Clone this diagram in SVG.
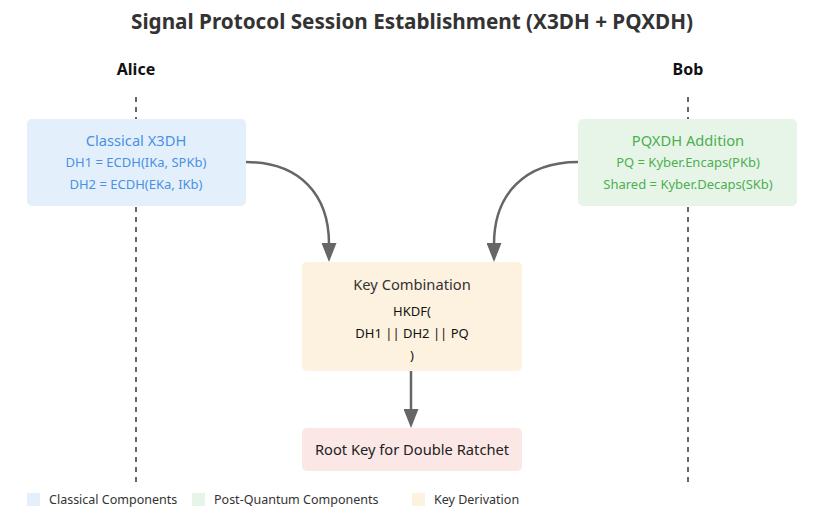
<svg xmlns="http://www.w3.org/2000/svg" width="825" height="521" viewBox="0 0 825 521">
<defs>
<marker id="ah" viewBox="0 0 19 15" refX="1" refY="7.5" markerWidth="19" markerHeight="15" markerUnits="userSpaceOnUse" orient="auto">
<path d="M0,0 L19,7.5 L0,15 z" fill="#666"/>
</marker>
<style>
text{font-family:"Noto Sans","Open Sans",sans-serif;text-anchor:middle}
.title{font-size:20.7px;font-weight:bold;fill:#333}
.actor{font-size:16px;font-weight:bold;fill:#111}
.life{stroke:#666;stroke-width:2;stroke-dasharray:5 5}
.h{font-size:14.7px}
.s{font-size:13px}
.conn{fill:none;stroke:#666;stroke-width:2.5}
.leg{font-size:12.5px;fill:#333;text-anchor:start}
</style>
</defs>
<rect width="825" height="521" fill="#fff"/>
<text class="title" x="412" y="29">Signal Protocol Session Establishment (X3DH + PQXDH)</text>
<g id="alice"><text class="actor" x="136" y="75">Alice</text><line class="life" x1="136" y1="97" x2="136" y2="482"/></g>
<g id="bob"><text class="actor" x="688" y="75">Bob</text><line class="life" x1="688" y1="97" x2="688" y2="482"/></g>
<g id="connectors">
<path class="conn" d="M246,162 C300,162 329,195 329,244" marker-end="url(#ah)"/>
<path class="conn" d="M578,162 C524,162 494,195 494,244" marker-end="url(#ah)"/>
<path class="conn" d="M411,371 L411,410" marker-end="url(#ah)"/>
</g>
<g id="classical">
<rect x="27" y="119" width="219" height="87" rx="5" fill="#e3f0fc"/>
<text class="h" x="136" y="146" fill="#4a90e2">Classical X3DH</text>
<text class="s" x="136" y="167" fill="#4a90e2">DH1 = ECDH(IKa, SPKb)</text>
<text class="s" x="136" y="189" fill="#4a90e2">DH2 = ECDH(EKa, IKb)</text>
</g>
<g id="pqxdh">
<rect x="578" y="119" width="219" height="87" rx="5" fill="#e7f5e8"/>
<text class="h" x="688" y="146" fill="#4caf50">PQXDH Addition</text>
<text class="s" x="688" y="167" fill="#4caf50">PQ = Kyber.Encaps(PKb)</text>
<text class="s" x="688" y="189" fill="#4caf50">Shared = Kyber.Decaps(SKb)</text>
</g>
<g id="combo">
<rect x="302" y="262" width="220" height="109" rx="5" fill="#fdf1e0"/>
<text class="h" x="412" y="290" fill="#333">Key Combination</text>
<text class="s" x="412" y="316" fill="#111">HKDF(</text>
<text class="s" x="412" y="338" fill="#111">DH1 || DH2 || PQ</text>
<text class="s" x="412" y="360" fill="#111">)</text>
</g>
<g id="root">
<rect x="302" y="428" width="220" height="43" rx="5" fill="#fbe8e6"/>
<text class="h" x="412" y="455" fill="#222">Root Key for Double Ratchet</text>
</g>
<g id="legend">
<rect x="27" y="493" width="13" height="13" fill="#e3f0fc"/>
<text class="leg" x="49" y="504">Classical Components</text>
<rect x="192" y="493" width="13" height="13" fill="#e7f5e8"/>
<text class="leg" x="214" y="504">Post-Quantum Components</text>
<rect x="412" y="493" width="13" height="13" fill="#fdf1e0"/>
<text class="leg" x="434" y="504">Key Derivation</text>
</g>
</svg>
